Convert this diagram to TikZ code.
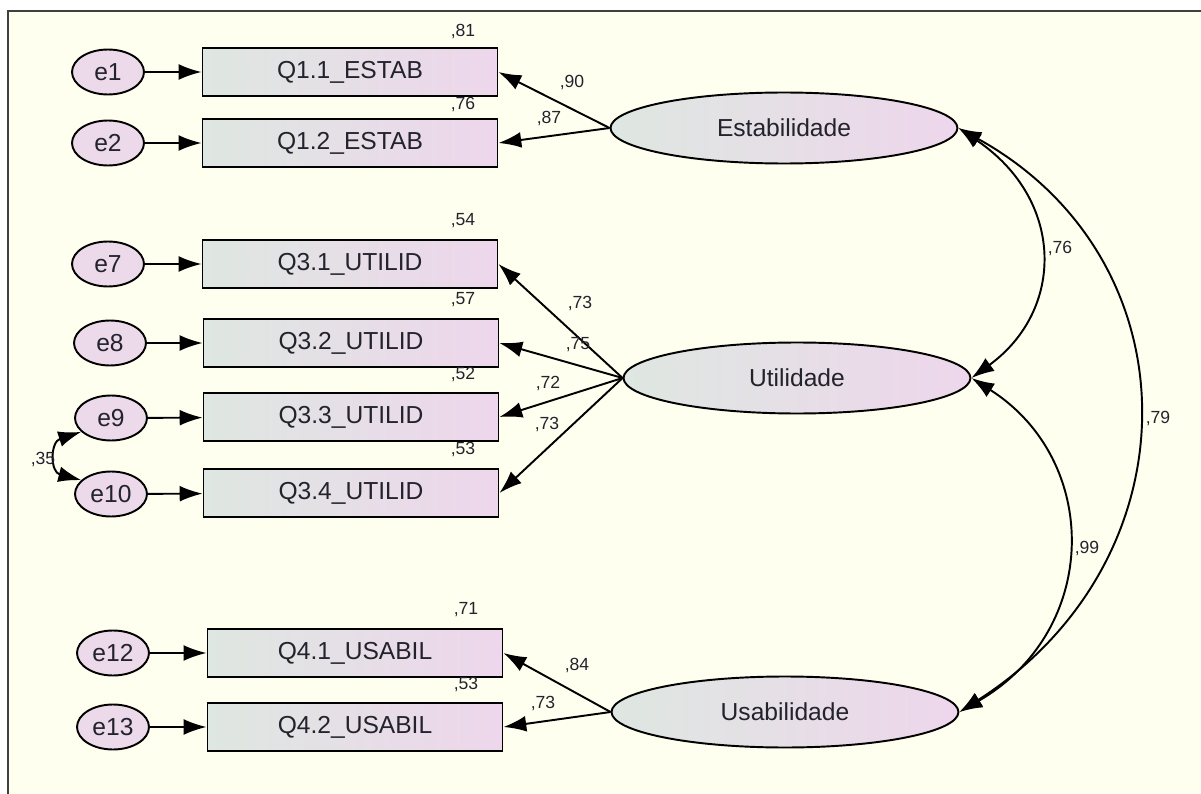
\documentclass[tikz,border=0pt]{standalone}
\usepackage{fontspec}
\setmainfont{Liberation Sans}
\usetikzlibrary{shapes.geometric,arrows.meta}
\definecolor{bgcream}{RGB}{255,255,240}
\definecolor{grayside}{RGB}{222,231,225}
\definecolor{pinkside}{RGB}{238,214,236}
\definecolor{errfill}{RGB}{236,218,234}
\definecolor{txtgray}{RGB}{35,35,45}

\tikzset{
  obs/.style={draw,line width=1.1pt,left color=grayside,right color=pinkside,minimum width=5.9cm,minimum height=0.96cm,inner sep=0pt,font=\fontsize{14}{15}\selectfont,text=txtgray},
  lat/.style={ellipse,draw,line width=1.1pt,left color=grayside,right color=pinkside,minimum width=6.94cm,minimum height=1.42cm,inner sep=0pt,font=\fontsize{14}{15}\selectfont,text=txtgray},
  err/.style={ellipse,draw,line width=1.1pt,fill=errfill,minimum width=1.44cm,minimum height=0.9cm,inner sep=0pt,font=\fontsize{14}{15}\selectfont,text=txtgray},
  coef/.style={font=\fontsize{10}{11}\selectfont,text=txtgray,inner sep=0pt},
  reg/.style={line width=1.1pt,-{Latex[length=13pt,width=9pt]}},
  corr/.style={line width=1.1pt,{Latex[length=13pt,width=9pt]}-{Latex[length=13pt,width=9pt]}}
}

\begin{document}
\begin{tikzpicture}[x=0.02cm,y=-0.02cm]
  \useasboundingbox (0,0) rectangle (1201,794);
  \fill[white] (0,0) rectangle (1201,794);
  \fill[bgcream] (8,11) rectangle (1201,794);
  \draw[line width=1.2pt,black!75] (8,794) -- (8,11) -- (1201,11);

  % latent factors
  \node[lat] (estab) at (784,128) {Estabilidade};
  \node[lat] (util) at (797,378) {Utilidade};
  \node[lat] (usab) at (785,712) {Usabilidade};

  % indicators
  \node[obs] (q11) at (350,72) {Q1.1\_ESTAB};
  \node[obs] (q12) at (350,143) {Q1.2\_ESTAB};
  \node[obs] (q31) at (350,264) {Q3.1\_UTILID};
  \node[obs] (q32) at (351,343) {Q3.2\_UTILID};
  \node[obs] (q33) at (351,417) {Q3.3\_UTILID};
  \node[obs] (q34) at (351,493) {Q3.4\_UTILID};
  \node[obs] (q41) at (355,653) {Q4.1\_USABIL};
  \node[obs] (q42) at (355,727) {Q4.2\_USABIL};

  % errors
  \node[err] (e1) at (108,72) {e1};
  \node[err] (e2) at (108,143) {e2};
  \node[err] (e7) at (108,264) {e7};
  \node[err] (e8) at (110,343) {e8};
  \node[err] (e9) at (111,418) {e9};
  \node[err] (e10) at (111,494) {e10};
  \node[err] (e12) at (113,653) {e12};
  \node[err] (e13) at (113,727) {e13};

  \foreach \e/\q in {e1/q11,e2/q12,e7/q31,e8/q32,e9/q33,e10/q34,e12/q41,e13/q42}
    \draw[reg] (\e) -- (\q);

  \draw[reg] (estab.west) -- (q11.east); \draw[reg] (estab.west) -- (q12.east);
  \draw[reg] (util.west) -- (q31.east); \draw[reg] (util.west) -- (q32.east);
  \draw[reg] (util.west) -- (q33.east); \draw[reg] (util.west) -- (q34.east);
  \draw[reg] (usab.west) -- (q41.east); \draw[reg] (usab.west) -- (q42.east);

  % covariances
  \draw[corr] (estab.east) .. controls (1065,200) and (1065,310) .. (util.east);
  \draw[corr] (util.east) .. controls (1101,460) and (1101,630) .. (usab.east);
  \draw[corr] (estab.east) .. controls (1197,260) and (1197,560) .. (usab.east);
  \draw[corr] (e9.205) .. controls (50,442) and (50,472) .. (e10.155);

  % squared multiple correlations
  \node[coef] (r11) at (463,31) {,81};
  \node[coef] (r12) at (463,104) {,76};
  \node[coef] (r31) at (463,221) {,54};
  \node[coef] (r32) at (463,300) {,57};
  \node[coef] (r33) at (463,374) {,52};
  \node[coef] (r34) at (463,449) {,53};
  \node[coef] (r41) at (466,610) {,71};
  \node[coef] (r42) at (466,684) {,53};

  % loadings and correlations
  \node[coef] (l11) at (572,82) {,90};
  \node[coef] (l12) at (549,118) {,87};
  \node[coef] (l31) at (580,303) {,73};
  \node[coef] (l32) at (578,345) {,75};
  \node[coef] (l33) at (548,383) {,72};
  \node[coef] (l34) at (547,424) {,73};
  \node[coef] (l41) at (577,665) {,84};
  \node[coef] (l42) at (543,703) {,73};
  \node[coef] (c1) at (1060,248) {,76};
  \node[coef] (c2) at (1087,548) {,99};
  \node[coef] (c3) at (1158,418) {,79};
  \node[coef] (c4) at (43,459) {,35};
\end{tikzpicture}
\end{document}
